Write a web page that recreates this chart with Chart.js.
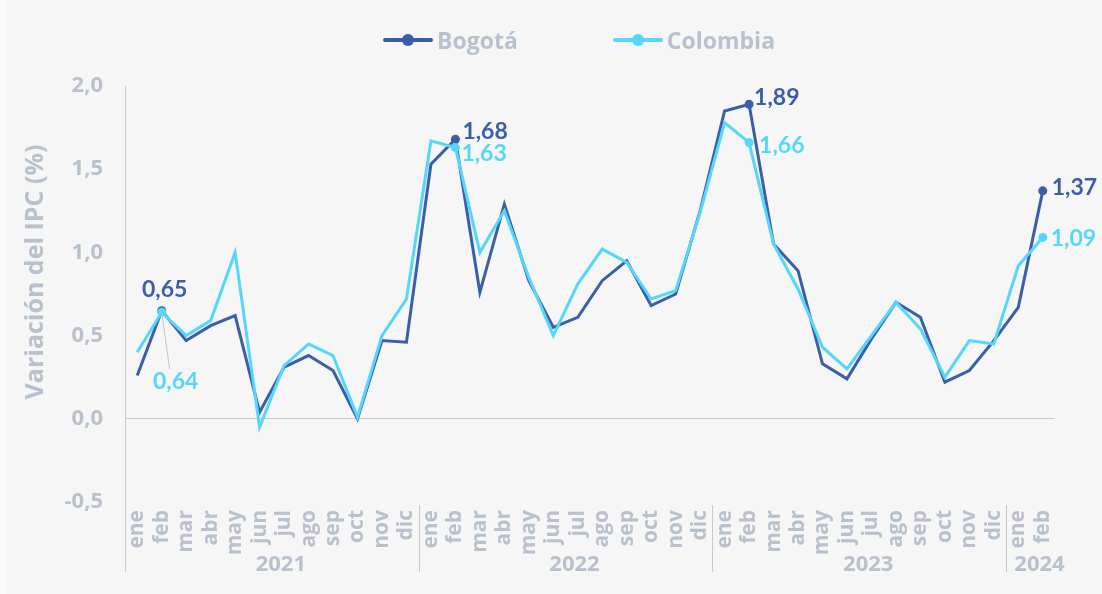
<!DOCTYPE html>
<html lang="es">
<head>
<meta charset="utf-8">
<script src="https://cdn.jsdelivr.net/npm/chart.js@4.4.1/dist/chart.umd.min.js"></script>
<style>
  html, body { margin: 0; padding: 0; background: #fbfbfb; }
  #wrap { position: absolute; left: 6px; top: 0; width: 1096px; height: 594px; background: #f6f6f6; }
  #legend { position: absolute; left: 377px; top: 24px; display: flex; align-items: center;
            font-family: 'Open Sans', sans-serif; font-weight: 700; font-size: 23px; color: #b8c1cc; }
  .item { display: flex; align-items: center; }
  .item + .item { margin-left: 95px; }
  .mark { position: relative; width: 50px; height: 12px; margin-right: 4px; }
  .mark .ln { position: absolute; left: 0; right: 0; top: 4px; height: 4px; border-radius: 2px; }
  .mark .dot { position: absolute; left: 19px; top: 0; width: 12px; height: 12px; border-radius: 50%; }
</style>
</head>
<body>
<div id="wrap">
  <canvas id="ipcChart" width="1096" height="594"></canvas>
  <div id="legend"></div>
</div>
<script>
// Datos: variación mensual del IPC (%)
const monthNames = ['ene', 'feb', 'mar', 'abr', 'may', 'jun', 'jul', 'ago', 'sep', 'oct', 'nov', 'dic'];
const years = ['2021', '2022', '2023', '2024'];
const monthsPerYear = [12, 12, 12, 2];
const bogota = [0.26, 0.65, 0.47, 0.56, 0.62, 0.04, 0.31, 0.38, 0.29, 0.00, 0.47, 0.46,
                1.53, 1.68, 0.76, 1.29, 0.83, 0.55, 0.61, 0.83, 0.95, 0.68, 0.75, 1.25,
                1.85, 1.89, 1.05, 0.89, 0.33, 0.24, 0.48, 0.70, 0.61, 0.22, 0.29, 0.47,
                0.67, 1.37];
const colombia = [0.40, 0.64, 0.50, 0.59, 1.00, -0.05, 0.32, 0.45, 0.38, 0.01, 0.50, 0.72,
                  1.67, 1.63, 1.00, 1.25, 0.85, 0.50, 0.81, 1.02, 0.94, 0.72, 0.77, 1.24,
                  1.78, 1.66, 1.05, 0.78, 0.43, 0.30, 0.50, 0.70, 0.54, 0.25, 0.47, 0.45,
                  0.92, 1.09];
const highlighted = [1, 13, 25, 37]; // febreros marcados
const yMin = -0.5, yMax = 2.0, yStep = 0.5;

const categories = [];
monthsPerYear.forEach(n => { for (let m = 0; m < n; m++) categories.push(monthNames[m]); });

const grey = '#b8c1cc';
const lineGrey = '#c9c9c9';
const dark = '#3a5ea8';
const cyan = '#55d6fb';
const fmt = v => v.toFixed(2).replace('.', ',');

// posición de las etiquetas de valor respecto al punto
const valueLabels = [
  { ds: 0, i: 1, dx: 3, dy: -21, align: 'center' },
  { ds: 1, i: 1, dx: 14, dy: 69, align: 'center', leader: [8, 57] },
  { ds: 0, i: 13, dx: 7, dy: -8, align: 'left' },
  { ds: 1, i: 13, dx: 6, dy: 6, align: 'left' },
  { ds: 0, i: 25, dx: 5, dy: -7, align: 'left' },
  { ds: 1, i: 25, dx: 10, dy: 3, align: 'left' },
  { ds: 0, i: 37, dx: 9, dy: -3, align: 'left' },
  { ds: 1, i: 37, dx: 8, dy: 1, align: 'left' }
];

const extrasPlugin = {
  id: 'extras',
  afterDraw(chart) {
    const { ctx, chartArea, scales: { x } } = chart;
    ctx.save();
    // eje izquierdo prolongado y separadores de año
    ctx.strokeStyle = lineGrey;
    ctx.lineWidth = 1;
    ctx.beginPath();
    ctx.moveTo(chartArea.left + 0.5, chartArea.bottom);
    ctx.lineTo(chartArea.left + 0.5, 572);
    let start = 0;
    monthsPerYear.forEach((n, k) => {
      if (k > 0) {
        const sx = Math.round((x.getPixelForValue(start - 1) + x.getPixelForValue(start)) / 2) + 0.5;
        ctx.moveTo(sx, 505);
        ctx.lineTo(sx, 572);
      }
      start += n;
    });
    ctx.stroke();

    // años
    ctx.fillStyle = grey;
    ctx.font = 'bold 22px "Open Sans"';
    ctx.textAlign = 'center';
    ctx.textBaseline = 'middle';
    start = 0;
    monthsPerYear.forEach((n, k) => {
      const cx = (x.getPixelForValue(start) + x.getPixelForValue(start + n - 1)) / 2 + 9;
      ctx.fillText(years[k], cx, 565);
      start += n;
    });

    // título del eje Y
    ctx.save();
    ctx.translate(30, 272);
    ctx.rotate(-Math.PI / 2);
    ctx.font = 'bold 25px "Open Sans"';
    ctx.fillText('Variación del IPC (%)', 0, 0);
    ctx.restore();

    // etiquetas de valor
    ctx.font = 'bold 23px Lato';
    valueLabels.forEach(l => {
      const pt = chart.getDatasetMeta(l.ds).data[l.i];
      const ds = chart.data.datasets[l.ds];
      if (l.leader) {
        ctx.strokeStyle = '#c4c4c4';
        ctx.beginPath();
        ctx.moveTo(pt.x, pt.y);
        ctx.lineTo(pt.x + l.leader[0], pt.y + l.leader[1]);
        ctx.stroke();
      }
      ctx.fillStyle = ds.borderColor;
      ctx.textAlign = l.align;
      ctx.fillText(fmt(ds.data[l.i]), pt.x + l.dx, pt.y + l.dy);
    });
    ctx.restore();
  }
};

const chart = new Chart(document.getElementById('ipcChart').getContext('2d'), {
  type: 'line',
  data: {
    labels: categories,
    datasets: [
      { label: 'Bogotá', data: bogota, borderColor: dark, backgroundColor: dark, order: 1 },
      { label: 'Colombia', data: colombia, borderColor: cyan, backgroundColor: cyan, order: 0 }
    ]
  },
  options: {
    responsive: false,
    animation: false,
    layout: { padding: { top: 86, right: 47, bottom: 0, left: 0 } },
    elements: {
      line: { borderWidth: 3, tension: 0 },
      point: { radius: c => highlighted.includes(c.dataIndex) ? 4.5 : 0, borderWidth: 0, hoverRadius: 5 }
    },
    plugins: { legend: { display: false }, tooltip: { enabled: false } },
    scales: {
      x: {
        offset: true,
        grid: { display: false },
        border: { display: false },
        ticks: {
          autoSkip: false, minRotation: 90, maxRotation: 90, padding: 0,
          color: grey, font: { family: 'Open Sans', size: 21, weight: 'bold' }
        },
        afterFit: s => { s.height = 92; }
      },
      y: {
        min: yMin, max: yMax,
        grid: { drawTicks: false, color: c => c.tick && c.tick.value === 0 ? lineGrey : 'transparent' },
        border: { display: true, color: lineGrey },
        ticks: {
          stepSize: yStep, padding: 22, color: grey,
          font: { family: 'Open Sans', size: 22, weight: 'bold' },
          callback: v => v.toFixed(1).replace('.', ',')
        },
        afterFit: s => { s.width = 119; }
      }
    }
  },
  plugins: [extrasPlugin]
});

// leyenda HTML
const legend = document.getElementById('legend');
chart.data.datasets.forEach(ds => {
  const item = document.createElement('div');
  item.className = 'item';
  item.innerHTML = '<span class="mark"><span class="ln" style="background:' + ds.borderColor + '"></span>' +
    '<span class="dot" style="background:' + ds.borderColor + '"></span></span><span>' + ds.label + '</span>';
  legend.appendChild(item);
});
</script>
</body>
</html>
